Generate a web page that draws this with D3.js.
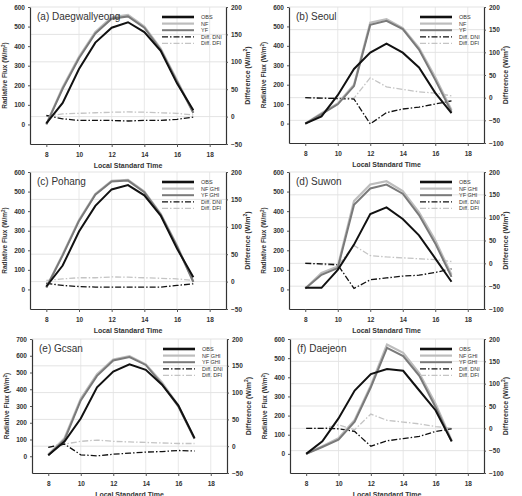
<!DOCTYPE html>
<html>
<head>
<meta charset="utf-8">
<script src="https://cdn.jsdelivr.net/npm/d3@7"></script>
<style>
  body { margin: 0; background: #fff; }
  svg text { font-family: "Liberation Sans", Arial, sans-serif; fill: #333; }
</style>
</head>
<body>
<div id="chart-container"></div>
<script>
// hours of the day (local standard time)
const hours = [8, 9, 10, 11, 12, 13, 14, 15, 16, 17];
const xTicks = [8, 10, 12, 14, 16, 18];

// (a) Daegwallyeong
const obsA = [5, 110, 283, 418, 494, 522, 472, 376, 210, 72];
const nfA  = [0, 190, 345, 472, 548, 560, 500, 388, 226, 62];
const yfA  = [0, 182, 338, 465, 540, 552, 494, 382, 220, 58];
const dniA = [2, -4, -7, -7, -7, -8, -7, -7, -5, -1];
const dfiA = [1, 5, 6, 7, 8, 8.5, 8, 7, 6, 3];

// (b) Seoul
const obsB = [0, 37, 146, 281, 365, 412, 365, 289, 158, 54];
const nfB  = [0, 54, 104, 200, 519, 538, 491, 390, 239, 70];
const yfB  = [0, 49, 99, 193, 508, 529, 486, 381, 225, 60];
const dniB = [0, -1, -2, -3, -58, -33, -25, -21, -14, -7];
const dfiB = [0, -1, 0, -1, 44, 24, 18, 13, 10, 4];

// (c) Pohang
const obsC = [15, 122, 296, 427, 511, 533, 481, 377, 209, 62];
const nfC  = [10, 178, 354, 488, 555, 560, 500, 386, 224, 40];
const yfC  = [10, 174, 350, 484, 551, 556, 497, 383, 221, 38];
const dniC = [-3, -7, -9, -10, -10, -10, -10, -10, -7, -4];
const dfiC = [2, 5, 7, 7, 8.5, 8, 7, 6, 5, 2];

// (d) Suwon
const obsD = [8, 8, 100, 229, 385, 419, 360, 276, 159, 39];
const nfD  = [5, 84, 117, 452, 536, 553, 503, 394, 251, 75];
const yfD  = [5, 75, 109, 432, 516, 536, 489, 380, 235, 64];
const dniD = [0, -1, -3, -55, -36, -32, -28, -26, -20, -12];
const dfiD = [1, -3, -5, 39, 17, 14, 12, 10, 8, 4];

// (e) Gcsan
const obsE = [6, 88, 225, 412, 506, 549, 516, 427, 304, 108];
const nfE  = [10, 108, 343, 490, 578, 598, 549, 441, 304, 108];
const yfE  = [6, 98, 333, 480, 572, 592, 545, 431, 298, 104];
const dniE = [-2, 4, -16, -18, -15, -13, -11, -10, -8, -9];
const dfiE = [-2, 4, 9, 11.5, 9, 8, 7, 6, 5, 5];

// (f) Daejeon
const obsF = [0, 65, 185, 331, 417, 443, 434, 331, 228, 65];
const nfF  = [0, 40, 82, 177, 357, 571, 528, 420, 262, 70];
const yfF  = [0, 36, 74, 168, 348, 554, 511, 408, 245, 65];
const dniF = [0, 0, -1, -7, -40, -28, -23, -18, -7, -1];
const dfiF = [0, 0, 8, -3, 32, 18, 14, 10, 4, 0];

const legendShort = ["OBS", "NF", "YF", "Diff. DNI", "Diff. DFI"];
const legendGhi = ["OBS", "NF GHI", "YF GHI", "Diff. DNI", "Diff. DFI"];

const width = 522, height = 496;

const svg = d3.select("#chart-container")
    .append("svg")
    .attr("width", width)
    .attr("height", height);

// line styles for obs, nf, yf, dni, dfi
const styles = [
    { color: "#111", w: 2.0, dash: null },
    { color: "#bdbdbd", w: 2.2, dash: null },
    { color: "#7a7a7a", w: 2.0, dash: null },
    { color: "#111", w: 1.3, dash: "6,2,1.5,2" },
    { color: "#c4c4c4", w: 1.3, dash: "6,2,1.5,2" }
];

function drawPanel(p) {
    const g = svg.append("g");
    const x = d3.scaleLinear().domain([7, 19]).range([p.x0, p.x1]);
    const yL = d3.scaleLinear().domain(p.left).range([p.y1, p.y0]);
    const yR = d3.scaleLinear().domain(p.right).range([p.y1, p.y0]);

    const rightTicks = d3.range(p.right[0], p.right[1] + 1, 50);
    const leftTicks = d3.range(0, p.left[1] + 1, 100);

    // gridlines
    g.selectAll(".hg").data(rightTicks.slice(1))
        .enter().append("line")
        .attr("x1", p.x0).attr("x2", p.x1)
        .attr("y1", d => yR(d)).attr("y2", d => yR(d))
        .attr("stroke", "#dcdcdc").attr("stroke-width", 0.8);
    g.selectAll(".vg").data(xTicks.slice(1))
        .enter().append("line")
        .attr("x1", d => x(d)).attr("x2", d => x(d))
        .attr("y1", p.y0).attr("y2", p.y1)
        .attr("stroke", "#e2e2e2").attr("stroke-width", 0.8);

    // axes
    const ax = g.append("g")
        .attr("transform", `translate(0,${p.y1})`)
        .call(d3.axisBottom(x).tickValues(xTicks).tickSize(3).tickSizeOuter(0));
    const al = g.append("g")
        .attr("transform", `translate(${p.x0},0)`)
        .call(d3.axisLeft(yL).tickValues(leftTicks).tickSize(2).tickSizeOuter(0));
    const ar = g.append("g")
        .attr("transform", `translate(${p.x1},0)`)
        .call(d3.axisRight(yR).tickValues(rightTicks).tickSize(2).tickSizeOuter(0));
    [ax, al, ar].forEach(a => {
        a.select(".domain").attr("stroke", "#333").attr("stroke-width", 1.2);
        a.selectAll(".tick line").attr("stroke", "#555");
        a.selectAll("text").style("font-size", "6.5px").style("font-weight", "bold").attr("fill", "#333");
    });
    ax.selectAll("text").attr("dy", "1.1em");

    // series
    const series = [p.obs, p.nf, p.yf, p.dni, p.dfi];
    const order = [4, 3, 1, 2, 0];
    order.forEach(i => {
        const yScale = i < 3 ? yL : yR;
        const line = d3.line().x((d, j) => x(hours[j])).y(d => yScale(d));
        g.append("path")
            .datum(series[i])
            .attr("d", line)
            .attr("fill", "none")
            .attr("stroke", styles[i].color)
            .attr("stroke-width", styles[i].w)
            .attr("stroke-dasharray", styles[i].dash);
    });

    // legend
    p.legend.forEach((name, i) => {
        const ly = p.y0 + 10 + i * 6.6;
        g.append("line")
            .attr("x1", p.x1 - 64).attr("x2", p.x1 - 32)
            .attr("y1", ly).attr("y2", ly)
            .attr("stroke", styles[i].color)
            .attr("stroke-width", i === 0 ? 2.6 : styles[i].w)
            .attr("stroke-dasharray", styles[i].dash);
        g.append("text")
            .attr("x", p.x1 - 25).attr("y", ly + 2)
            .style("font-size", "5.5px")
            .attr("fill", "#666")
            .text(name);
    });

    // panel title
    g.append("text")
        .attr("x", p.x0 + 7).attr("y", p.y0 + 13)
        .style("font-size", "10px")
        .text(p.title);

    // axis titles
    g.append("text")
        .attr("x", (p.x0 + p.x1) / 2).attr("y", p.y1 + 23.5)
        .attr("text-anchor", "middle")
        .style("font-size", "7px").style("font-weight", "bold")
        .text("Local Standard Time");

    const lt = g.append("text")
        .attr("transform", `translate(${p.x0 - 23},${(p.y0 + p.y1) / 2}) rotate(-90)`)
        .attr("text-anchor", "middle")
        .style("font-size", "6.5px").style("font-weight", "bold");
    lt.append("tspan").text("Radiative Flux (W/m");
    lt.append("tspan").attr("baseline-shift", "super").style("font-size", "4.5px").text("2");
    lt.append("tspan").text(")");

    const rt = g.append("text")
        .attr("transform", `translate(${p.x1 + 24},${(p.y0 + p.y1) / 2}) rotate(-90)`)
        .attr("text-anchor", "middle")
        .style("font-size", "7px").style("font-weight", "bold");
    rt.append("tspan").text("Difference (W/m");
    rt.append("tspan").attr("baseline-shift", "super").style("font-size", "5px").text("2");
    rt.append("tspan").text(")");
}

const panels = [
    { title: "(a) Daegwallyeong", x0: 30, x1: 226, y0: 7, y1: 144, left: [-100, 600], right: [-50, 200],
      obs: obsA, nf: nfA, yf: yfA, dni: dniA, dfi: dfiA, legend: legendShort },
    { title: "(b) Seoul", x0: 289, x1: 484, y0: 7, y1: 143, left: [-100, 600], right: [-100, 200],
      obs: obsB, nf: nfB, yf: yfB, dni: dniB, dfi: dfiB, legend: legendShort },
    { title: "(c) Pohang", x0: 30, x1: 226, y0: 172, y1: 309, left: [-100, 600], right: [-50, 200],
      obs: obsC, nf: nfC, yf: yfC, dni: dniC, dfi: dfiC, legend: legendGhi },
    { title: "(d) Suwon", x0: 289, x1: 484, y0: 172, y1: 309, left: [-100, 600], right: [-100, 200],
      obs: obsD, nf: nfD, yf: yfD, dni: dniD, dfi: dfiD, legend: legendGhi },
    { title: "(e) Gcsan", x0: 32, x1: 227, y0: 339, y1: 473, left: [-100, 700], right: [-50, 200],
      obs: obsE, nf: nfE, yf: yfE, dni: dniE, dfi: dfiE, legend: legendGhi },
    { title: "(f) Daejeon", x0: 290, x1: 484, y0: 339, y1: 473, left: [-100, 600], right: [-100, 200],
      obs: obsF, nf: nfF, yf: yfF, dni: dniF, dfi: dfiF, legend: legendGhi }
];

panels.forEach(drawPanel);
</script>
</body>
</html>
